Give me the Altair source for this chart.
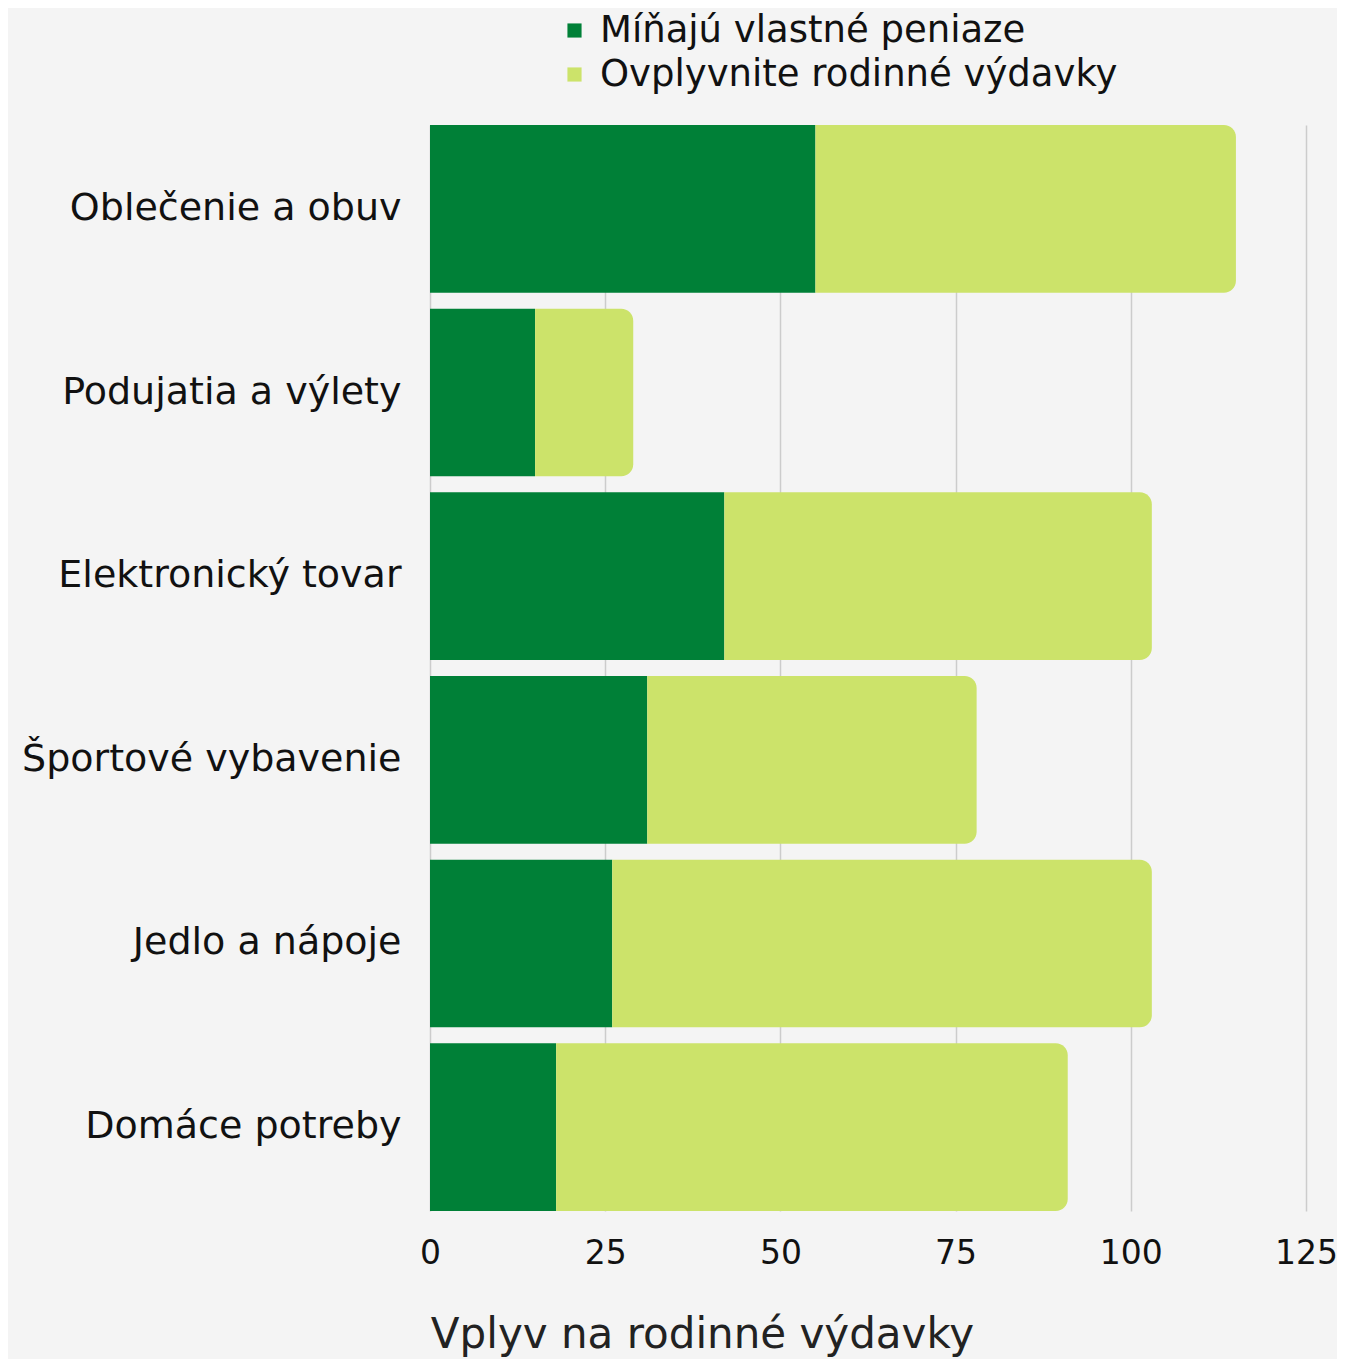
import altair as alt
import pandas as pd

categories = ["Oblečenie a obuv", "Podujatia a výlety", "Elektronický tovar",
              "Športové vybavenie", "Jedlo a nápoje", "Domáce potreby"]
own_money = [55, 15, 42, 31, 26, 18]
family_influence = [60, 14, 61, 47, 77, 73]
series_names = ["Míňajú vlastné peniaze", "Ovplyvnite rodinné výdavky"]
colors = ["#008037", "#cce36a"]

rows = []
for c, a, b in zip(categories, own_money, family_influence):
    rows.append({"cat": c, "series": series_names[0], "start": 0, "end": a})
    rows.append({"cat": c, "series": series_names[1], "start": a, "end": a + b})
df = pd.DataFrame(rows)

FONT = "DejaVu Sans"

color = alt.Color("series:N", scale=alt.Scale(domain=series_names, range=colors),
                  legend=alt.Legend(title=None, orient="none", legendX=126, legendY=-113,
                                    symbolType="square", symbolSize=200, labelFontSize=37,
                                    labelFont=FONT, labelColor="#111111", rowPadding=6,
                                    labelOffset=7, symbolStrokeWidth=0, labelLimit=800))
y = alt.Y("cat:N", sort=categories, title=None,
          scale=alt.Scale(paddingInner=0.087, paddingOuter=0),
          axis=alt.Axis(labelFontSize=38, labelFont=FONT, labelColor="#111111",
                        labelPadding=29, ticks=False, domain=False, labelLimit=500))
x = alt.X("start:Q", scale=alt.Scale(domain=[0, 125], nice=False),
          title="Vplyv na rodinné výdavky",
          axis=alt.Axis(values=[0, 25, 50, 75, 100, 125], labelFontSize=33, labelFont=FONT,
                        labelColor="#111111", labelPadding=26, ticks=False, domain=False,
                        gridColor="#cccccc", gridWidth=1.5, titleFontSize=42,
                        titleFont=FONT, titleFontWeight="normal", titleColor="#222222",
                        titlePadding=44, titleX=272, titleAnchor="middle",
                        titleAlign="center", labelFlush=False))

base = alt.Chart(df)
dark = base.transform_filter(alt.datum.series == series_names[0]).mark_bar().encode(
    y=y, x=x, x2="end:Q", color=color)
light = base.transform_filter(alt.datum.series == series_names[1]).mark_bar(
    cornerRadiusTopRight=12, cornerRadiusBottomRight=12).encode(
    y=y, x=x, x2="end:Q", color=color)

chart = alt.layer(dark, light).properties(
    width=876, height=1086,
    background="#f4f4f4",
    autosize=alt.AutoSizeParams(type="none"),
    padding={"left": 422, "top": 117, "right": 31, "bottom": 148},
).configure_view(stroke=None)

chart.save("out.html", embed_options={"renderer": "svg", "actions": False})
